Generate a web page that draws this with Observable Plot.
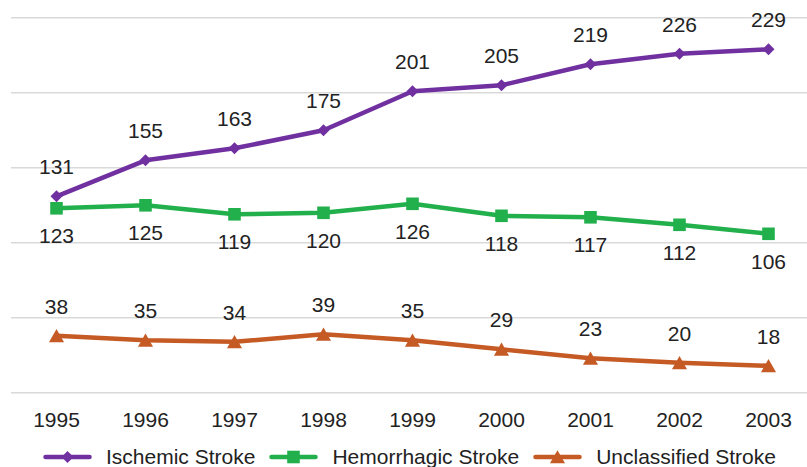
<!DOCTYPE html>
<html>
<head>
<meta charset="utf-8">
<script src="https://cdn.jsdelivr.net/npm/d3@7"></script>
<script src="https://cdn.jsdelivr.net/npm/@observablehq/plot@0.6"></script>
<style>
  html, body { margin: 0; padding: 0; background: #fff; overflow: hidden; }
  body { font-family: "Liberation Sans", Arial, sans-serif; color: #222; }
  #chart svg { display: block; }
  .legend { display: flex; align-items: center; height: 27px; padding-left: 43px; padding-top: 3px; font-size: 21px; color: #222; }
  .legend .item { display: flex; align-items: center; margin-right: 14px; }
  .legend svg { margin-right: 14px; display: block; }
</style>
</head>
<body>
<div id="chart"></div>
<div class="legend" id="legend"></div>
<script>
const years = ["1995", "1996", "1997", "1998", "1999", "2000", "2001", "2002", "2003"];
const ischemic = [131, 155, 163, 175, 201, 205, 219, 226, 229];
const hemorrhagic = [123, 125, 119, 120, 126, 118, 117, 112, 106];
const unclassified = [38, 35, 34, 39, 35, 29, 23, 20, 18];
const seriesNames = ["Ischemic Stroke", "Hemorrhagic Stroke", "Unclassified Stroke"];
const gridValues = [0, 50, 100, 150, 200, 250];

const styles = {
  "Ischemic Stroke": {color: "#7030A0", symbol: "diamond2", r: 5.4, labelDy: -29, dotDy: 0},
  "Hemorrhagic Stroke": {color: "#21B04B", symbol: "square", r: 7.1, labelDy: 28, dotDy: 0},
  "Unclassified Stroke": {color: "#C55A24", symbol: "triangle", r: 5.6, labelDy: -29, dotDy: 2}
};

const seriesValues = [ischemic, hemorrhagic, unclassified];
const rows = seriesNames.map((name, s) => years.map((year, i) => ({year, value: seriesValues[s][i], series: name})));

const marks = [
  Plot.ruleY(gridValues, {stroke: "#D9D9D9", strokeWidth: 1.6})
];
rows.forEach((data, s) => {
  const st = styles[seriesNames[s]];
  marks.push(Plot.line(data, {x: "year", y: "value", stroke: st.color, strokeWidth: 4.5, strokeLinejoin: "round"}));
  marks.push(Plot.dot(data, {x: "year", y: "value", fill: st.color, stroke: "none", symbol: st.symbol, r: st.r, dy: st.dotDy}));
  marks.push(Plot.text(data, {x: "year", y: "value", text: d => String(d.value), dy: st.labelDy, fontSize: 21, fill: "#222"}));
});
marks.push(Plot.axisX({tickSize: 0, tickPadding: 19, fontSize: 21, color: "#222"}));

const chart = Plot.plot({
  width: 807,
  height: 440,
  marginLeft: 11,
  marginRight: 0,
  marginTop: 17.3,
  marginBottom: 47.7,
  style: {fontFamily: "'Liberation Sans', Arial, sans-serif", fontSize: "21px", color: "#222", background: "#fff", overflow: "visible"},
  x: {type: "point", domain: years, range: [11, 813], padding: 0.5, label: null},
  y: {domain: [0, 250], axis: null},
  marks
});
document.getElementById("chart").appendChild(chart);

// Legend
const legend = document.getElementById("legend");
const symbolMap = {diamond2: d3.symbolDiamond2, square: d3.symbolSquare, triangle: d3.symbolTriangle};
seriesNames.forEach(name => {
  const st = styles[name];
  const item = document.createElement("div");
  item.className = "item";
  const path = d3.symbol(symbolMap[st.symbol], Math.PI * st.r * st.r)();
  item.innerHTML = `<svg width="49" height="20" viewBox="0 0 49 20">
    <line x1="2.5" x2="46.5" y1="10" y2="10" stroke="${st.color}" stroke-width="4.5" stroke-linecap="round"/>
    <path d="${path}" transform="translate(24.5,${10 + st.dotDy})" fill="${st.color}"/>
  </svg><span>${name}</span>`;
  legend.appendChild(item);
});
</script>
</body>
</html>
